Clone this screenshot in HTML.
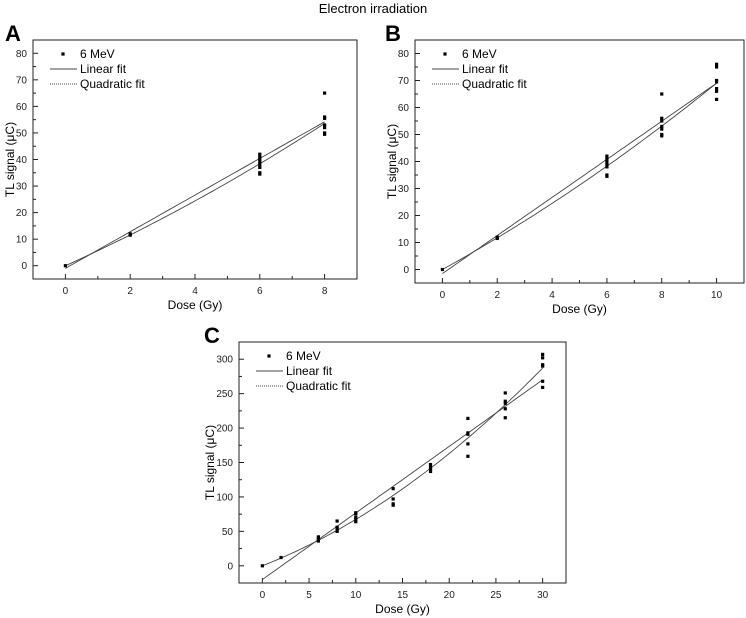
<!DOCTYPE html>
<html><head><meta charset="utf-8"><style>
body{margin:0;background:#fff;}
svg{display:block;font-family:"Liberation Sans",Arial,sans-serif;}
</style></head><body>
<svg id="fig" width="746" height="618">
<text x="373" y="13" text-anchor="middle" font-size="13">Electron irradiation</text>
</svg>
<script>
// Panel A data
const aDoses=[0,2,2,6,6,6,6,6,6,6,6,8,8,8,8,8,8,8];
const aSignal=[0,12,11.5,42,41,40,39,38,37,35,34.5,65,56,55.5,53,52,50,49.5];
const aLinear=[-1,6.9];        // intercept, slope
const aQuad=[0,5.5,0.15];      // c0,c1,c2
const aXTicks=[0,2,4,6,8];
const aYTicks=[0,10,20,30,40,50,60,70,80];
// Panel B data
const bDoses=[0,2,2,6,6,6,6,6,6,6,8,8,8,8,8,8,8,10,10,10,10,10,10,10];
const bSignal=[0,12,11.5,42,41,40,39,38,35,34.5,65,56,55,53,52,50,49.5,76,75,70,69.5,67,66,63];
const bLinear=[-1.5,7.05];
const bQuad=[0,5.6,0.13];
const bXTicks=[0,2,4,6,8,10];
const bYTicks=[0,10,20,30,40,50,60,70,80];
// Panel C data
const cDoses=[0,2,6,6,6,6,8,8,8,8,8,10,10,10,10,10,14,14,14,14,18,18,18,18,22,22,22,22,22,26,26,26,26,26,30,30,30,30,30,30];
const cSignal=[0,12,42,40,38,36,65,56,54,51,50,77,75,70,67,64,112,97,90,88,147,143,140,137,214,193,191,177,159,251,239,236,228,215,307,302,292,290,268,259];
const cLinear=[-20,9.67];
const cQuad=[0,5.32,0.1417];
const cXTicks=[0,5,10,15,20,25,30];
const cYTicks=[0,50,100,150,200,250,300];

const NS='http://www.w3.org/2000/svg';
const svg=document.getElementById('fig');
function el(tag,attrs,parent){const e=document.createElementNS(NS,tag);for(const k in attrs)e.setAttribute(k,attrs[k]);(parent||svg).appendChild(e);return e;}

function panel(cfg){
  const g=el('g',{});
  
  
  const sx=v=>cfg.x0+(v-cfg.xmin)/(cfg.xmax-cfg.xmin)*(cfg.x1-cfg.x0);
  const sy=v=>cfg.y1-(v-cfg.ymin)/(cfg.ymax-cfg.ymin)*(cfg.y1-cfg.y0);
  const box=el('rect',{x:cfg.x0,y:cfg.y0,width:cfg.x1-cfg.x0,height:cfg.y1-cfg.y0,fill:'none',stroke:'#222','stroke-width':1},g);
  
  
  const letter=el('text',{x:cfg.lx,y:cfg.ly,'font-size':22,'font-weight':'bold'},g);
  letter.textContent=cfg.id.toUpperCase();
  
  
  cfg.xt.forEach((v,i)=>{
    const x=sx(v);
    el('line',{x1:x,x2:x,y1:cfg.y1,y2:cfg.y1-5,stroke:'#222'},g);
    if(i<cfg.xt.length-1){const m=sx((v+cfg.xt[i+1])/2);el('line',{x1:m,x2:m,y1:cfg.y1,y2:cfg.y1-3,stroke:'#222'},g);}
    const t=el('text',{x:x,y:cfg.y1+15,'font-size':10,'text-anchor':'middle',fill:'#222'},g);
    t.textContent=v;
    
    
  });
  cfg.yt.forEach((v,i)=>{
    const y=sy(v);
    el('line',{x1:cfg.x0,x2:cfg.x0+5,y1:y,y2:y,stroke:'#222'},g);
    if(i<cfg.yt.length-1){const m=sy((v+cfg.yt[i+1])/2);el('line',{x1:cfg.x0,x2:cfg.x0+3,y1:m,y2:m,stroke:'#222'},g);}
    const t=el('text',{x:cfg.x0-6,y:y+3.5,'font-size':10,'text-anchor':'end',fill:'#222'},g);
    t.textContent=v;
    
    
  });
  const xt=el('text',{x:(cfg.x0+cfg.x1)/2,y:cfg.y1+30,'font-size':12,'text-anchor':'middle'},g);
  xt.textContent='Dose (Gy)';
  
  
  const yx=cfg.x0-19-(cfg.yw||0), yy=(cfg.y0+cfg.y1)/2;
  const yt=el('text',{x:yx,y:yy,'font-size':12,'text-anchor':'middle',transform:`rotate(-90 ${yx} ${yy})`},g);
  yt.textContent='TL signal (\u03bcC)';
  
  
  // fits
  const xmax=Math.max(...cfg.d), xmin=Math.min(...cfg.d);
  let lp='',qp='';
  for(let k=0;k<=60;k++){const x=xmin+(xmax-xmin)*k/60;
    lp+=(k?'L':'M')+sx(x).toFixed(1)+','+sy(cfg.lin[0]+cfg.lin[1]*x).toFixed(1);
    qp+=(k?'L':'M')+sx(x).toFixed(1)+','+sy(cfg.q[0]+cfg.q[1]*x+cfg.q[2]*x*x).toFixed(1);}
  const l=el('path',{d:lp,fill:'none',stroke:'#444','stroke-width':0.9},g);
  
  
  const q=el('path',{d:qp,fill:'none',stroke:'#444','stroke-width':0.9},g);
  
  
  cfg.d.forEach((x,i)=>{
    const p=el('rect',{x:sx(x)-1.6,y:sy(cfg.s[i])-1.6,width:3.2,height:3.2,fill:'#000'},g);
    
    
  });
  // legend
  const lx=cfg.x0+17, ly=cfg.y0+14;
  const lg=el('g',{},g);
  
  
  el('rect',{x:lx+13-1.6,y:ly-1.6,width:3.2,height:3.2,fill:'#000'},lg);
  const t1=el('text',{x:lx+30,y:ly+4,'font-size':12},lg);t1.textContent='6 MeV';
  
  
  el('line',{x1:lx,x2:lx+27,y1:ly+15,y2:ly+15,stroke:'#444'},lg);
  const t2=el('text',{x:lx+30,y:ly+19,'font-size':12},lg);t2.textContent='Linear fit';
  
  
  el('line',{x1:lx,x2:lx+27,y1:ly+30,y2:ly+30,stroke:'#444','stroke-dasharray':'1,1'},lg);
  const t3=el('text',{x:lx+30,y:ly+34,'font-size':12},lg);t3.textContent='Quadratic fit';
  
  
}
panel({id:'a',x0:33,x1:357,y0:40,y1:279,xmin:-1,xmax:9,ymin:-5,ymax:85,lx:5,ly:41,xt:aXTicks,yt:aYTicks,d:aDoses,s:aSignal,lin:aLinear,q:aQuad});
panel({id:'b',x0:415,x1:744,y0:40,y1:283,xmin:-1,xmax:11,ymin:-5,ymax:85,lx:385,ly:41,xt:bXTicks,yt:bYTicks,d:bDoses,s:bSignal,lin:bLinear,q:bQuad});
panel({id:'c',x0:239,x1:566,y0:342,y1:583,xmin:-2.5,xmax:32.5,ymin:-25,ymax:325,lx:204,ly:343,xt:cXTicks,yt:cYTicks,d:cDoses,s:cSignal,lin:cLinear,q:cQuad,yw:6});
</script>
</body></html>
